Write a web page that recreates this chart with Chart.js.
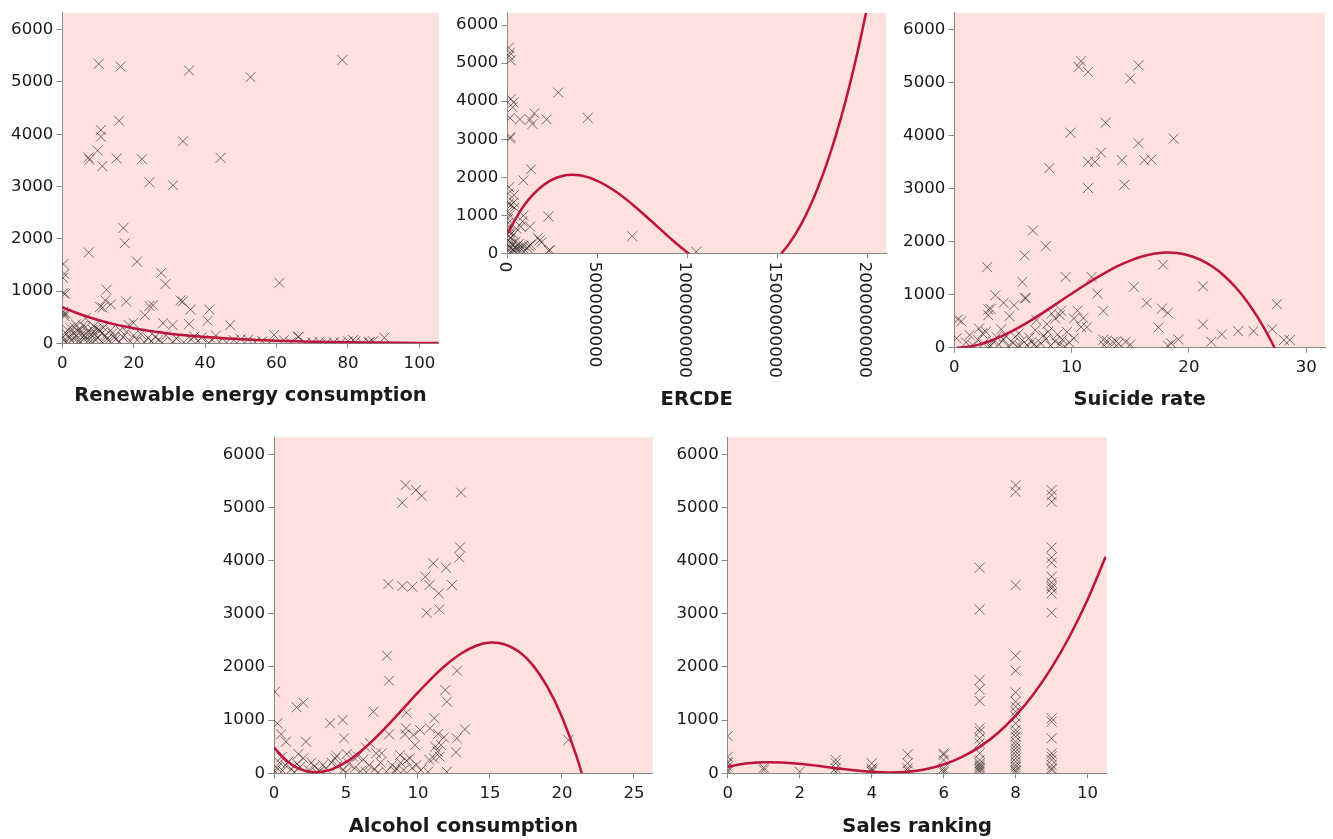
<!DOCTYPE html>
<html>
<head>
<meta charset="utf-8">
<script src="https://cdn.jsdelivr.net/npm/chart.js@4"></script>
<style>
  html, body { margin: 0; padding: 0; background: #fff; }
  #wrap { position: relative; width: 1333px; height: 839px; }
  #wrap canvas { position: absolute; left: 0; top: 0; }
</style>
</head>
<body>
<div id="wrap">
  <canvas id="c1" width="1333" height="839"></canvas>
  <canvas id="c2" width="1333" height="839"></canvas>
  <canvas id="c3" width="1333" height="839"></canvas>
  <canvas id="c4" width="1333" height="839"></canvas>
  <canvas id="c5" width="1333" height="839"></canvas>
</div>
<script>
// scatter points [x, y], fit curves as [x, y] samples
const yTicks = [0, 1000, 2000, 3000, 4000, 5000, 6000];

const renewableTicks = [0, 20, 40, 60, 80, 100];
const renewablePts = [
  [10.2,5345],[16.3,5294],[35.5,5218],[52.7,5092],[78.4,5420],
  [15.9,4257],[10.8,4080],[10.8,3953],[9.9,3687],[7.3,3555],[7.6,3510],[11.2,3390],[15.2,3536],[22.3,3523],[33.8,3865],[44.3,3548],[24.4,3080],[31.0,3023],
  [17.1,2207],[17.5,1916],[7.4,1739],[20.9,1562],[27.7,1347],[28.9,1132],[60.8,1157],
  [0.3,1518],[0.6,1328],[0.2,1250],[0.8,949],[0.3,960],[12.4,1025],[12.0,822],[13.6,745],
  [17.9,800],[10.6,696],[11.3,683],[33.1,822],[33.7,803],[25.4,727],[24.4,715],[23.1,538],[35.9,645],[41.2,645],[40.7,430],[35.5,367],[47.0,348],
  [28.2,385],[30.9,348],[19.9,391],[18.6,350],[16.2,252],[6.5,480],[59.3,158],[66.2,126],[90.2,108],[81.4,63],[85.8,19],
  [0.2,600],[0.4,560],[0.6,520],[1.0,570],[0.2,120],[0.5,60],[1.0,20],[1.5,250],[2.0,120],[2.5,60],[3.0,200],[3.5,300],[4.0,150],[4.5,40],
  [5.0,260],[5.5,180],[6.0,90],[6.5,310],[7.0,220],[7.5,130],[8.0,40],[8.5,260],[9.0,180],[9.5,280],[10.0,100],[10.5,240],[11.0,30],[11.5,300],
  [12.0,150],[13.0,60],[13.5,250],[14.0,190],[15.0,80],[16.0,30],[17.0,120],[18.0,220],[19.0,40],[20.0,150],[21.0,60],[22.0,180],[23.0,20],
  [24.0,100],[25.0,40],[26.0,120],[27.0,70],[28.0,10],[29.0,150],[31.0,30],[32.0,90],[34.0,20],[36.0,80],[37.0,130],[38.0,40],[39.0,110],
  [41.0,10],[42.0,60],[43.0,150],[44.0,30],[46.0,10],[48.0,60],[50.0,80],[52.0,70],[54.0,20],[56.0,40],[58.0,10],[62.0,60],[64.0,20],[66.0,120],
  [68.0,10],[70.0,20],[72.0,30],[74.0,10],[76.0,20],[78.0,15],[80.0,40],[82.0,30],[84.0,10],[86.0,20],[87.0,40],
  [1.2,180],[2.2,300],[3.2,90],[4.2,240],[5.2,20],[6.2,150],[7.2,50],[8.2,170],[9.2,70],[10.2,260],[11.2,200],[12.5,80],[14.5,110],[3.8,360],[5.8,340],[8.8,330]
];
const renewableFit = [[0,690],[5,555],[10,445],[15,357],[20,286],[25,229],[30,184],[35,147],[40,119],[50,76],[60,49],[70,32],[80,20],[90,13],[100,8],[105.4,7]];

const ercdeTicks = [0, 5e9, 10e9, 15e9, 20e9];
const ercdeTickLabels = ["0", "5000000000", "10000000000", "15000000000", "20000000000"];
const ercdePts = [
  [0.08e9,5408],[0.15e9,5277],[0.1e9,5190],[0.18e9,5077],
  [0.2e9,4057],[0.35e9,3970],[0.3e9,3840],[0.15e9,3560],[0.7e9,3520],[1.26e9,3520],[1.4e9,3400],[1.5e9,3680],[2.19e9,3520],[2.83e9,4230],[4.47e9,3560],
  [0.15e9,3020],[0.18e9,3060],[1.32e9,2210],[0.89e9,1919],[0.1e9,1740],[0.05e9,1570],[0.37e9,1530],[0.35e9,1340],[0.2e9,1270],
  [0.9e9,990],[0.85e9,840],[1.26e9,700],[2.28e9,970],[6.94e9,450],[10.5e9,40],[2.3e9,70],[1.8e9,340],[1.9e9,290],[1.7e9,410],[1.2e9,190],[1.3e9,220],[0.7e9,150],
  [0.02e9,900],[0.05e9,800],[0.1e9,700],[0.03e9,600],[0.15e9,550],[0.08e9,450],[0.2e9,400],[0.05e9,350],[0.12e9,300],[0.25e9,250],[0.04e9,200],
  [0.18e9,150],[0.3e9,100],[0.06e9,60],[0.22e9,30],[0.4e9,80],[0.5e9,180],[0.6e9,60],[0.45e9,300],[0.35e9,500],[0.55e9,120],[0.8e9,100],
  [0.9e9,200],[1.0e9,80],[1.1e9,150],[0.65e9,250],[0.02e9,1100],[0.08e9,1300],[0.4e9,1200],[0.12e9,1000],[0.5e9,650],[0.75e9,700],[2.37e9,86]
];
const ercdeFit = [[0,520],[1e9,1300],[2e9,1789],[3e9,2026],[4e9,2052],[5e9,1907],[6e9,1632],[7e9,1265],[8e9,848],[9e9,420],[10e9,22],
  [11e9,-307],[12e9,-526],[13e9,-595],[14e9,-474],[15e9,-123],[16e9,498],[17e9,1429],[18e9,2711],[19e9,4383],[20e9,6486],[21e9,9059]];

const suicideTicks = [0, 10, 20, 30];
const suicidePts = [
  [10.8,5408],[10.6,5301],[11.4,5207],[15.7,5332],[15.0,5082],[12.9,4248],[9.9,4060],[15.7,3860],[18.7,3948],[12.5,3684],[11.4,3509],[12.0,3509],
  [14.3,3540],[16.2,3540],[16.8,3553],[8.1,3390],[11.4,3014],[14.5,3077],
  [6.7,2212],[7.8,1917],[6.0,1742],[2.8,1523],[9.5,1335],[11.7,1335],[5.8,1241],[17.8,1567],[15.3,1147],[21.2,1159],[12.2,1021],[3.5,990],
  [4.2,846],[5.1,802],[6.0,940],[6.1,935],[2.9,720],[3.1,730],[2.9,614],[4.7,595],[12.7,695],[16.4,846],[17.7,739],[18.2,658],[27.5,821],
  [21.2,439],[17.4,382],[27.1,351],[22.8,251],[24.2,313],[25.5,313],[28.1,144],[28.6,144],[19.1,157],[21.9,113],[18.5,81],[18.2,40],
  [15.0,60],[14.0,80],[13.5,110],[12.7,150],[12.8,40],[13.0,130],[13.8,120],[14.6,110],[10.2,551],[10.8,390],[11.3,385],[10.5,700],[11.0,560],
  [9.1,700],[9.0,614],[8.3,645],[8.6,550],[7.9,445],[6.9,332],[7.0,520],[4.0,345],[0.3,533],[0.6,500],[0.2,175],[1.3,238],[2.1,363],
  [2.4,270],[2.7,300],[5.5,270],[5.2,206],
  [1.0,100],[1.6,40],[2.0,150],[2.5,80],[3.0,20],[3.3,120],[3.8,60],[4.2,150],[4.6,30],[5.0,90],[5.4,10],[5.8,140],[6.2,50],[6.6,110],
  [7.0,20],[7.4,80],[7.8,160],[8.2,40],[8.6,120],[9.0,60],[9.4,20],[9.8,100],[10.2,180],[3.6,200],[4.4,220],[6.4,190],[7.6,230],[8.8,250],
  [9.6,300],[8.0,300],[3.1,40],[5.6,30],[6.8,60],[9.2,150]
];
const suicideFit = [[0.23,0],[1,12],[2,54],[3,122],[4,212],[5,321],[6,445],[7,581],[8,724],[9,872],[10,1020],[11,1165],[12,1304],[13,1433],
  [14,1548],[15,1645],[16,1721],[17,1772],[18,1796],[19,1787],[20,1742],[21,1659],[22,1532],[23,1359],[24,1136],[25,860],[26,526],[27,131],[28,-329]];

const alcoholTicks = [0, 5, 10, 15, 20, 25];
const alcoholPts = [
  [9.14,5420],[8.91,5088],[9.86,5326],[10.25,5220],[12.99,5282],[12.92,4248],[12.87,4060],[11.06,3948],[11.94,3866],[10.51,3697],[7.94,3559],
  [8.91,3521],[9.61,3509],[10.79,3540],[11.44,3384],[12.36,3540],[11.48,3083],[10.6,3020],
  [7.85,2212],[7.99,1742],[12.71,1930],[11.9,1567],[12.01,1347],[0.07,1535],[1.57,1241],[2.04,1328],[6.9,1159],[9.21,1140],[11.13,1034],
  [3.89,940],[4.77,1003],[4.86,658],[0.23,940],[0.49,733],[0.83,595],[2.22,595],[7.99,733],[9.17,846],[9.1,733],[9.68,720],[9.8,530],
  [10.14,815],[10.83,846],[11.4,740],[11.8,677],[13.26,827],[12.69,658],[12.64,395],[11.37,407],[11.6,530],[11.2,500],[20.44,627],
  [1.69,363],[2.04,282],[4.24,282],[4.35,326],[5.05,363],[5.5,313],[6.37,489],[6.67,564],[7.1,376],[7.48,376],[8.75,345],[9.44,282],
  [9.2,240],[9.9,157],[10.8,250],[11.1,280],[11.5,313],[12.0,30],[10.7,30],
  [0.2,100],[0.4,200],[0.6,50],[0.8,150],[1.0,220],[1.2,80],[1.4,20],[0.5,300],[1.8,120],[2.4,60],[2.8,130],[3.2,40],[3.6,90],[4.0,200],
  [4.4,140],[4.8,60],[5.2,180],[5.6,100],[6.0,40],[6.2,260],[6.6,150],[7.0,80],[7.4,200],[7.8,30],[8.2,150],[8.5,90],[8.8,200],[9.0,60],
  [9.6,100],[10.2,60],[3.0,10],[5.0,20],[6.4,20],[7.2,10],[8.4,40],[0.1,30],[1.6,180],[2.6,200],[3.4,160],[5.8,320]
];
const alcoholFit = [[0,485],[1,209],[2,59],[3,19],[4,75],[5,209],[6,407],[7,653],[8,931],[9,1226],[10,1521],[11,1801],[12,2051],[13,2254],
  [14,2395],[15,2458],[16,2428],[17,2289],[18,2025],[19,1620],[20,1059],[21,326],[22,-591]];

const salesTicks = [0, 2, 4, 6, 8, 10];
const salesPts = [
  [0,700],[0,313],[0,219],[0,188],[0,125],[0,63],[0,31],
  [1,106],[1,63],[2,31],
  [3,250],[3,188],[3,94],[3,31],
  [4,188],[4,94],[4,63],[4,31],
  [5,357],[5,188],[5,94],[5,50],
  [6,376],[6,345],[6,250],[6,94],[6,50],[6,19],
  [7,3866],[7,3083],[7,1754],[7,1579],[7,1360],[7,846],[7,783],[7,658],[7,564],[7,376],[7,250],[7,188],[7,157],[7,125],[7,94],[7,63],[7,31],
  [8,5420],[8,5295],[8,3540],[8,2212],[8,1930],[8,1523],[8,1347],[8,1253],[8,1159],[8,1065],[8,940],[8,815],[8,752],[8,689],[8,595],
  [8,533],[8,470],[8,407],[8,345],[8,282],[8,219],[8,157],[8,113],[8,63],[8,31],
  [9,5326],[9,5232],[9,5107],[9,4248],[9,4060],[9,3960],[9,3697],[9,3584],[9,3521],[9,3478],[9,3384],[9,3020],[9,1034],[9,971],[9,658],
  [9,376],[9,313],[9,250],[9,157],[9,94],[9,63]
];
const salesFit = [[0,125],[0.5,184],[1,207],[1.5,203],[2,178],[2.5,140],[3,97],[3.5,57],[4,28],[4.5,16],[5,30],[5.5,78],[6,166],[6.5,304],
  [7,497],[7.5,754],[8,1084],[8.5,1492],[9,1987],[9.5,2578],[10,3270],[10.5,4072]];

Chart.defaults.font.family = '"DejaVu Sans", sans-serif';
Chart.defaults.font.size = 16.6;
Chart.defaults.color = '#1a1a1a';

const Y_W = 60;
const panels = [
  { id: 'c1', title: 'Renewable energy consumption', pts: renewablePts, fit: renewableFit, xTicks: renewableTicks, xMax: 105.4, area: [62.3, 10, 438.7, 343.3], xh: 64.4 },
  { id: 'c2', title: 'ERCDE', pts: ercdePts, fit: ercdeFit, xTicks: ercdeTicks, xMax: 2.104e10, area: [507.3, 11.7, 886, 253.3], xh: 158.4, rotated: true },
  { id: 'c3', title: 'Suicide rate', pts: suicidePts, fit: suicideFit, xTicks: suicideTicks, xMax: 31.6, area: [954.3, 11.7, 1332.7, 347.7], xh: 64 },
  { id: 'c4', title: 'Alcohol consumption', pts: alcoholPts, fit: alcoholFit, xTicks: alcoholTicks, xMax: 26.3, area: [274, 437.3, 652.7, 773.3], xh: 65.1 },
  { id: 'c5', title: 'Sales ranking', pts: salesPts, fit: salesFit, xTicks: salesTicks, xMax: 10.53, area: [727.7, 437.3, 1106.7, 773.3], xh: 65.1 }
];

const bgPlugin = {
  id: 'bg',
  beforeDraw(chart) {
    const a = chart.chartArea;
    const ctx = chart.ctx;
    ctx.save();
    ctx.fillStyle = '#fde1dc';
    ctx.fillRect(a.left, a.top, a.right - a.left, a.bottom - a.top);
    ctx.restore();
  }
};

// x labels of ERCDE are turned clockwise, reading downwards
const rotLabels = {
  id: 'rotLabels',
  afterDraw(chart) {
    const xs = chart.scales.x;
    const ctx = chart.ctx;
    ctx.save();
    ctx.font = '16.6px "DejaVu Sans"';
    ctx.fillStyle = '#1a1a1a';
    ctx.textAlign = 'left';
    ctx.textBaseline = 'middle';
    ercdeTicks.forEach((v, i) => {
      ctx.save();
      ctx.translate(xs.getPixelForValue(v), xs.top + 8.4);
      ctx.rotate(Math.PI / 2);
      ctx.fillText(ercdeTickLabels[i], 0, 2.5);
      ctx.restore();
    });
    ctx.restore();
  }
};

panels.forEach(p => {
  const [l, t, r, b] = p.area;
  new Chart(document.getElementById(p.id), {
    type: 'scatter',
    data: {
      datasets: [
        {
          data: p.fit.map(([x, y]) => ({ x, y })),
          showLine: true,
          borderColor: '#be143c',
          borderWidth: 2.5,
          pointRadius: 0,
          tension: 0.4,
          order: 0
        },
        {
          data: p.pts.map(([x, y]) => ({ x, y })),
          pointStyle: 'crossRot',
          pointRadius: 7,
          pointBorderWidth: 1,
          borderColor: 'rgba(35,35,35,0.62)',
          backgroundColor: 'rgba(0,0,0,0)',
          clip: 0,
          order: 1
        }
      ]
    },
    options: {
      responsive: false,
      devicePixelRatio: 1,
      animation: false,
      layout: { padding: { left: l - Y_W, top: t, right: 1333 - r, bottom: 839 - b - p.xh } },
      plugins: { legend: { display: false }, tooltip: { enabled: false } },
      scales: {
        x: {
          type: 'linear',
          min: 0,
          max: p.xMax,
          afterBuildTicks: s => { s.ticks = p.xTicks.map(v => ({ value: v })); },
          afterFit: s => { s.height = p.xh; },
          border: { color: '#8a8a8a', width: 1 },
          grid: { drawOnChartArea: false, drawTicks: true, tickLength: 5, color: '#8a8a8a' },
          ticks: {
            display: !p.rotated,
            maxRotation: 0,
            padding: 5,
            callback: v => String(v)
          },
          title: {
            display: true,
            text: p.title,
            padding: { top: 0, bottom: 0 },
            font: { family: '"DejaVu Sans", sans-serif', weight: 'bold', size: 19.5 }
          }
        },
        y: {
          type: 'linear',
          min: 0,
          max: 6320,
          afterBuildTicks: s => { s.ticks = yTicks.map(v => ({ value: v })); },
          afterFit: s => { s.width = Y_W; },
          border: { color: '#8a8a8a', width: 1 },
          grid: { drawOnChartArea: false, drawTicks: true, tickLength: 6, color: '#8a8a8a' },
          ticks: {
            padding: 3,
            callback: v => String(v)
          }
        }
      }
    },
    plugins: p.rotated ? [bgPlugin, rotLabels] : [bgPlugin]
  });
});
</script>
</body>
</html>
